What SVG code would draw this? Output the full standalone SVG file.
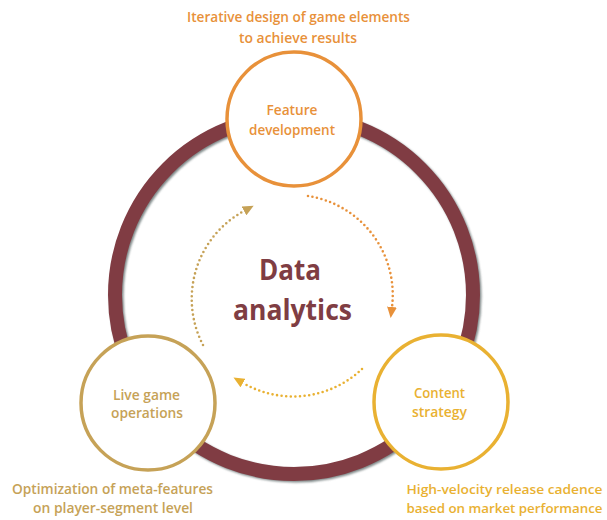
<svg xmlns="http://www.w3.org/2000/svg" width="607" height="520" viewBox="0 0 607 520">
<defs>
<style>
.t{font-family:"Open Sans","Noto Sans","Liberation Sans",sans-serif;font-weight:600;text-anchor:middle;}
.cap{font-size:14px;}
.capr{font-size:12.6px;}
.lbl{font-size:14px;}
.big{font-size:29px;font-weight:700;fill:#7f3d43;}
.or{fill:#e8913a;}
.ye{fill:#e9b132;}
.go{fill:#c6a257;}
.node{fill:#ffffff;stroke-width:3.5;}
.dot{fill:none;stroke-width:2.6;stroke-linecap:round;stroke-dasharray:0 4.6;}
</style>
<filter id="sh" x="-10%" y="-10%" width="120%" height="120%">
<feGaussianBlur stdDeviation="1.2"/>
</filter>
<marker id="mOr" markerUnits="userSpaceOnUse" markerWidth="11" markerHeight="10" viewBox="0 0 10 9" refX="0" refY="4.5" orient="auto"><path d="M0,0 L10,4.5 L0,9 z" fill="#e8913a"/></marker>
<marker id="mYe" markerUnits="userSpaceOnUse" markerWidth="11" markerHeight="10" viewBox="0 0 10 9" refX="0" refY="4.5" orient="auto"><path d="M0,0 L10,4.5 L0,9 z" fill="#e9b132"/></marker>
<marker id="mGo" markerUnits="userSpaceOnUse" markerWidth="11" markerHeight="10" viewBox="0 0 10 9" refX="0" refY="4.5" orient="auto"><path d="M0,0 L10,4.5 L0,9 z" fill="#c6a257"/></marker>
</defs>
<rect width="607" height="520" fill="#ffffff"/>
<g id="ring">
<circle cx="295.5" cy="296.5" r="179" fill="none" stroke="#5f6b6b" stroke-width="14" filter="url(#sh)" opacity="0.8"/>
<circle cx="294" cy="295" r="179" fill="none" stroke="#803c43" stroke-width="14"/>
</g>
<g id="connectors">
<path class="dot" d="M308,196 A100,100 0 0,1 392,307" stroke="#e8913a" marker-end="url(#mOr)"/>
<path class="dot" d="M362,369 A100,100 0 0,1 243,383" stroke="#e9b132" marker-end="url(#mYe)"/>
<path class="dot" d="M203,345 A100,100 0 0,1 244,211" stroke="#c6a257" marker-end="url(#mGo)"/>
</g>
<g id="center">
<text class="t big" x="290" y="280" textLength="62" lengthAdjust="spacingAndGlyphs">Data</text>
<text class="t big" x="292.5" y="320" textLength="119" lengthAdjust="spacingAndGlyphs">analytics</text>
</g>
<g id="feature">
<circle class="node" cx="294" cy="119" r="67" stroke="#e8913a"/>
<text class="t lbl or" x="292" y="115" textLength="51" lengthAdjust="spacingAndGlyphs">Feature</text>
<text class="t lbl or" x="292" y="135" textLength="86" lengthAdjust="spacingAndGlyphs">development</text>
<text class="t cap or" x="298.5" y="22" textLength="223" lengthAdjust="spacingAndGlyphs">Iterative design of game elements</text>
<text class="t cap or" x="298" y="43" textLength="118" lengthAdjust="spacingAndGlyphs">to achieve results</text>
</g>
<g id="content">
<circle class="node" cx="441" cy="402" r="67" stroke="#e9b132"/>
<text class="t lbl ye" x="439.5" y="398" textLength="51" lengthAdjust="spacingAndGlyphs">Content</text>
<text class="t lbl ye" x="439.5" y="417" textLength="55" lengthAdjust="spacingAndGlyphs">strategy</text>
<text class="t capr ye" x="504.5" y="494" textLength="196" lengthAdjust="spacingAndGlyphs">High-velocity release cadence</text>
<text class="t capr ye" x="504.5" y="513" textLength="196" lengthAdjust="spacingAndGlyphs">based on market performance</text>
</g>
<g id="live">
<circle class="node" cx="148" cy="403" r="67" stroke="#c6a257"/>
<text class="t lbl go" x="146.5" y="400" textLength="67" lengthAdjust="spacingAndGlyphs">Live game</text>
<text class="t lbl go" x="147" y="418" textLength="72" lengthAdjust="spacingAndGlyphs">operations</text>
<text class="t cap go" x="112.5" y="494" textLength="201" lengthAdjust="spacingAndGlyphs">Optimization of meta-features</text>
<text class="t cap go" x="113" y="513" textLength="160" lengthAdjust="spacingAndGlyphs">on player-segment level</text>
</g>
</svg>
